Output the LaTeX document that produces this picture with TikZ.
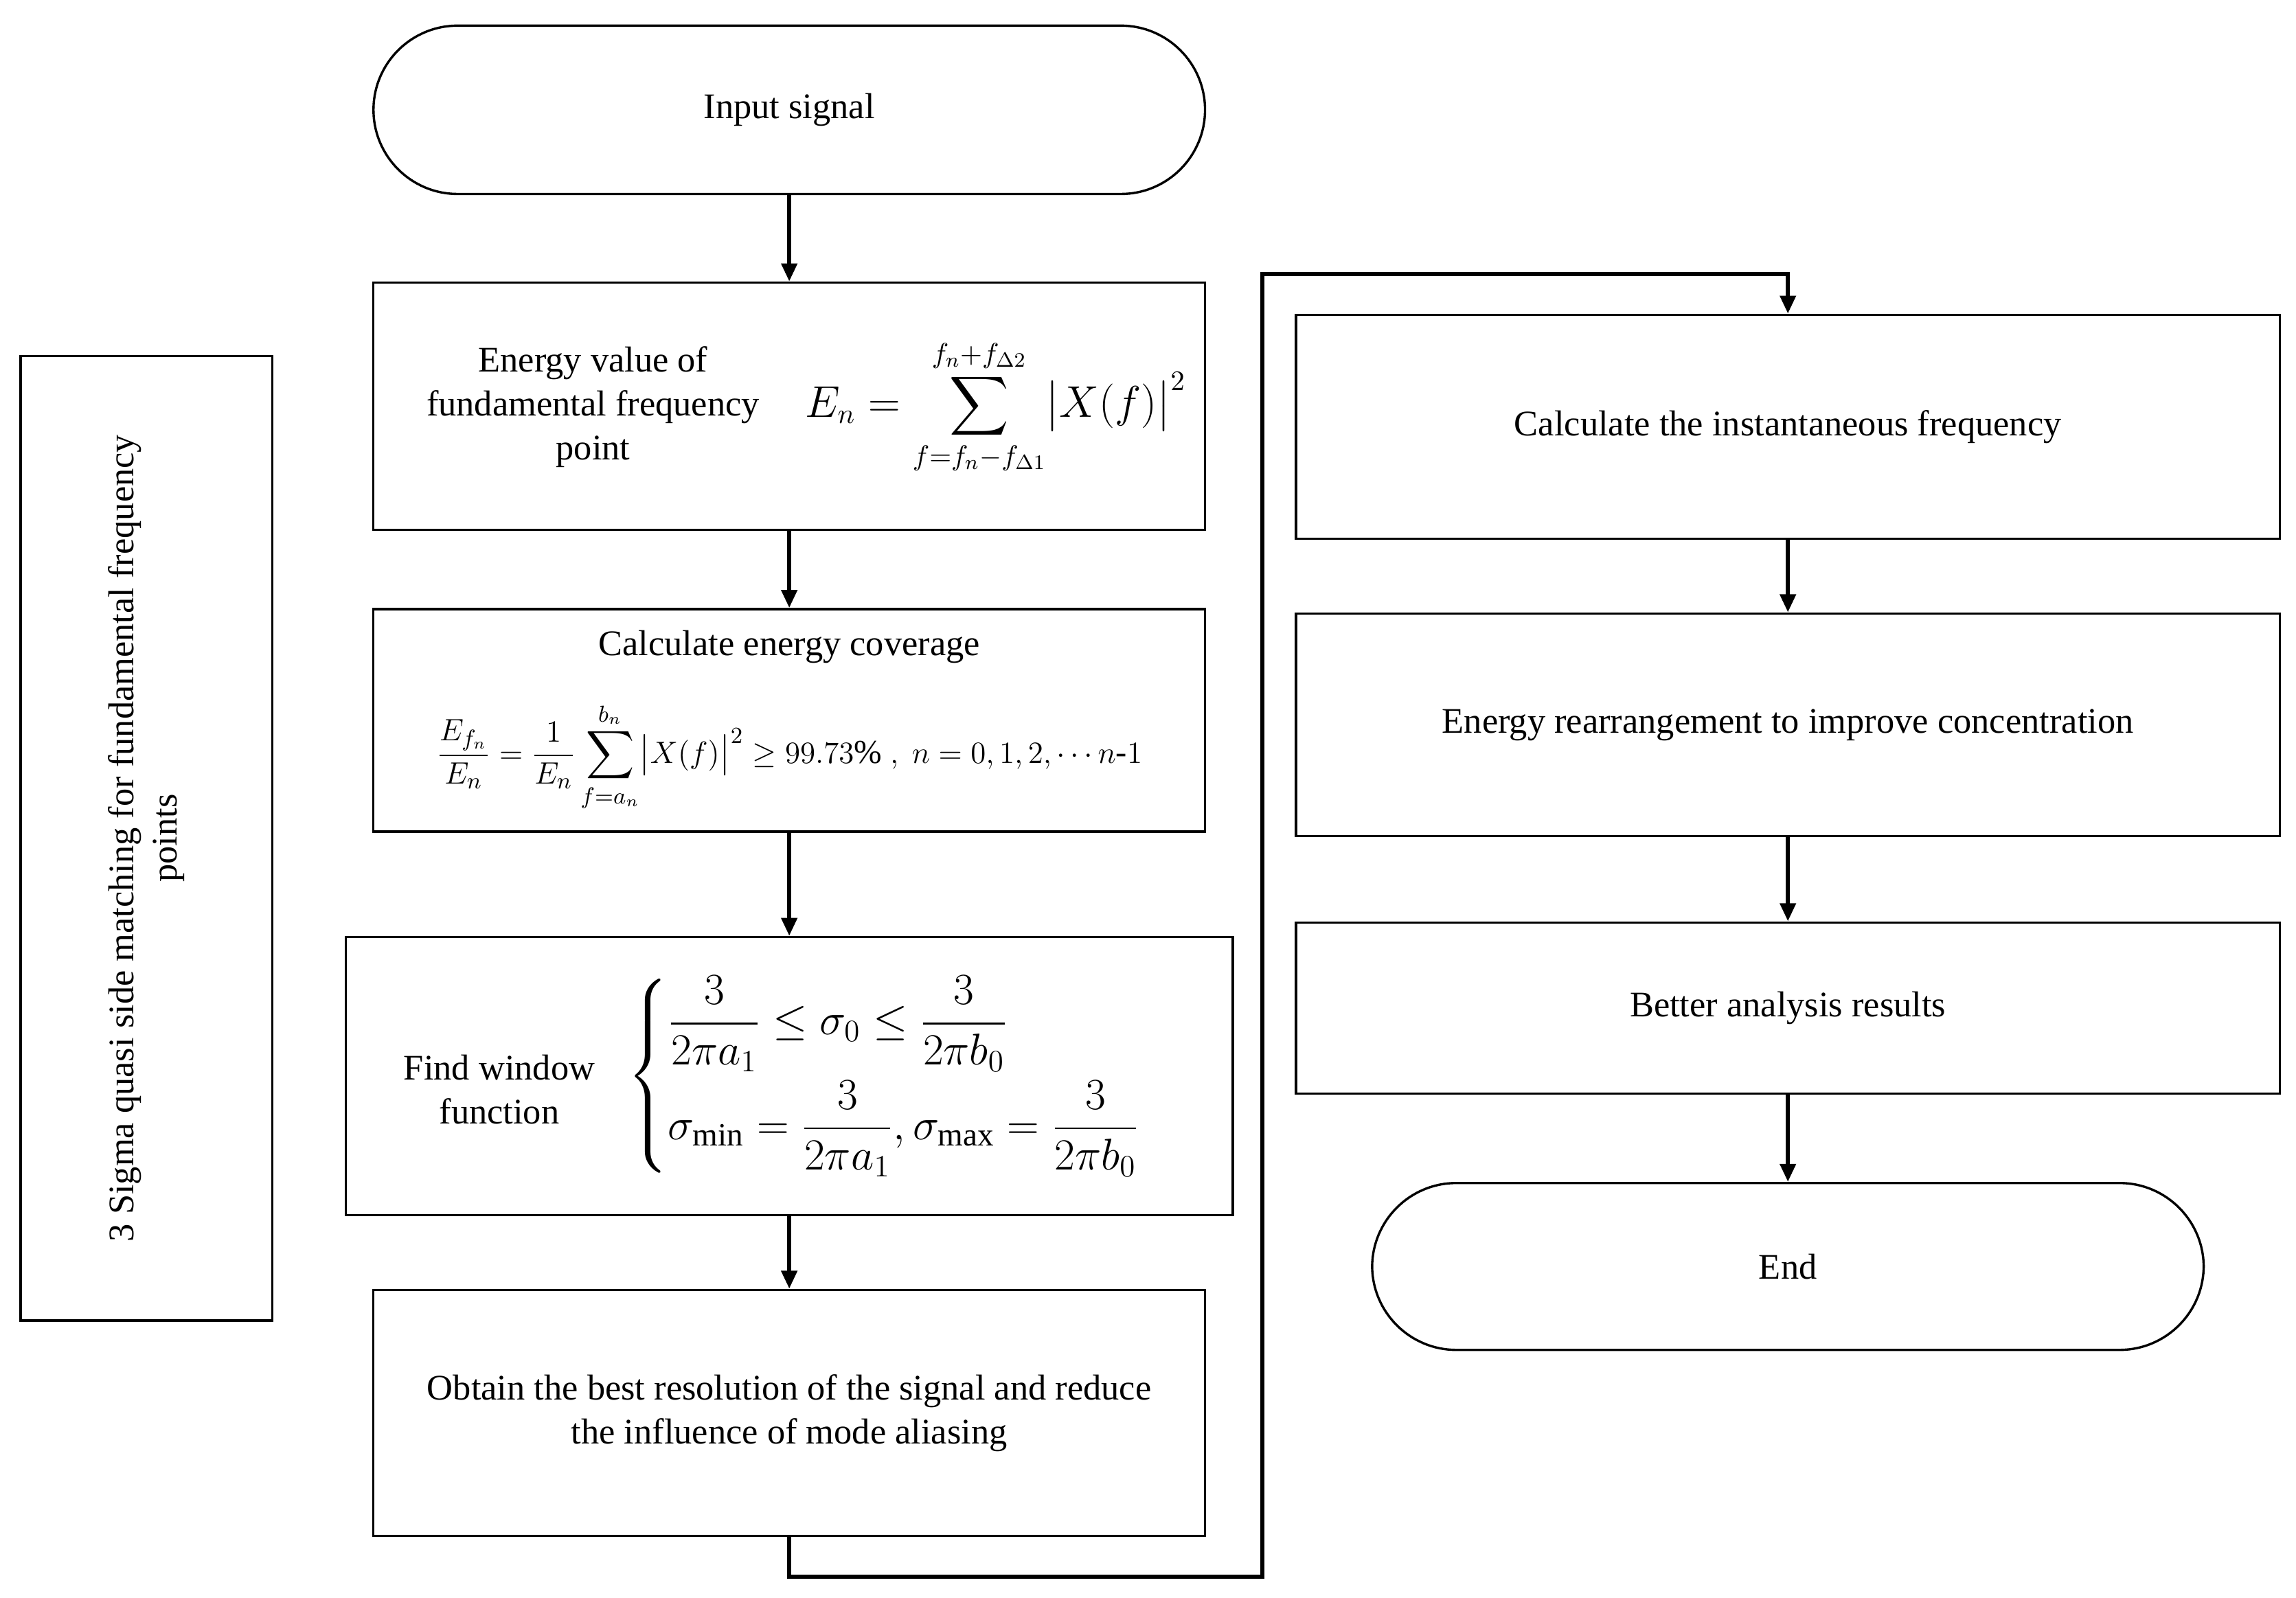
\documentclass[tikz,border=0pt]{standalone}
\usepackage{amsmath,amssymb}
\usepackage{fontspec}
\setmainfont{Liberation Serif}
\usetikzlibrary{arrows.meta,positioning}
\begin{document}
\begin{tikzpicture}[x=0.02cm,y=-0.02cm,font=\fontsize{14}{17}\selectfont,
  every node/.style={align=center},
  proc/.style={rectangle, draw=black, line width=0.9pt, inner sep=0pt},
  term/.style={rectangle, rounded corners=1.15cm, draw=black, line width=0.9pt, inner sep=0pt},
  flow/.style={-{Triangle[length=7pt,width=6pt]}, line width=1.6pt}]
\useasboundingbox (0,0) rectangle (1568,1091);
% left column
\node (start)[term, minimum width=11.36cm, minimum height=2.3cm] at (539,75) {Input signal};
\node (energy)[proc, minimum width=11.36cm, minimum height=3.38cm] at (539,277.5) {};
\node (energyT) at (405,278) {Energy value of\\fundamental frequency\\point};
\node (energyF) at (680,278) {\fontsize{16}{19}\selectfont$E_n=\displaystyle\sum_{f=f_n-f_{\Delta1}}^{f_n+f_{\Delta2}}\bigl|X(f)\bigr|^2$};
\node (cover)[proc, minimum width=11.36cm, minimum height=3.04cm] at (539,492) {};
\node (coverT) at (539,442) {Calculate energy coverage};
\node (coverF) at (539,517) {\fontsize{13}{15}\selectfont$\dfrac{E_{f_n}}{E_n}=\dfrac{1}{E_n}\displaystyle\sum_{f=a_n}^{b_n}\bigl|X(f)\bigr|^2\geq 99.73\%\ ,\ n=0,1,2,\cdots n\text{-}1$};
\node (window)[proc, minimum width=12.12cm, minimum height=3.8cm] at (539,735) {};
\node (windowT) at (341,744) {Find window\\function};
\node (windowF) at (620,735) {\fontsize{18}{22}\selectfont$\begin{cases}\dfrac{3}{2\pi a_1}\leq\sigma_0\leq\dfrac{3}{2\pi b_0}\\[10pt]
  \sigma_{\min}=\dfrac{3}{2\pi a_1},\sigma_{\max}=\dfrac{3}{2\pi b_0}\end{cases}$};
\node (best)[proc, minimum width=11.36cm, minimum height=3.36cm] at (539,965) {Obtain the best resolution of the signal and reduce\\the influence of mode aliasing};
% side note
\node (sigma)[proc, minimum width=3.44cm, minimum height=13.18cm] at (100,572.5) {};
\node (sigmaT)[rotate=90] at (100,572.5) {3 Sigma quasi side matching for fundamental frequency\\points};
% right column
\node (inst)[proc, minimum width=13.44cm, minimum height=3.06cm] at (1221,291.5) {Calculate the instantaneous frequency};
\node (rearr)[proc, minimum width=13.44cm, minimum height=3.04cm] at (1221,495) {Energy rearrangement to improve concentration};
\node (result)[proc, minimum width=13.44cm, minimum height=2.34cm] at (1221,688.5) {Better analysis results};
\node (end)[term, minimum width=11.36cm, minimum height=2.28cm] at (1221,865) {End};
% connectors
\draw[flow] (start) -- (energy);
\draw[flow] (energy) -- (cover);
\draw[flow] (cover) -- (window);
\draw[flow] (window) -- (best);
\draw[flow] (best.south) |- (862,1077) |- (1221,187) -- (inst.north);
\draw[flow] (inst) -- (rearr);
\draw[flow] (rearr) -- (result);
\draw[flow] (result) -- (end);
\end{tikzpicture}
\end{document}
